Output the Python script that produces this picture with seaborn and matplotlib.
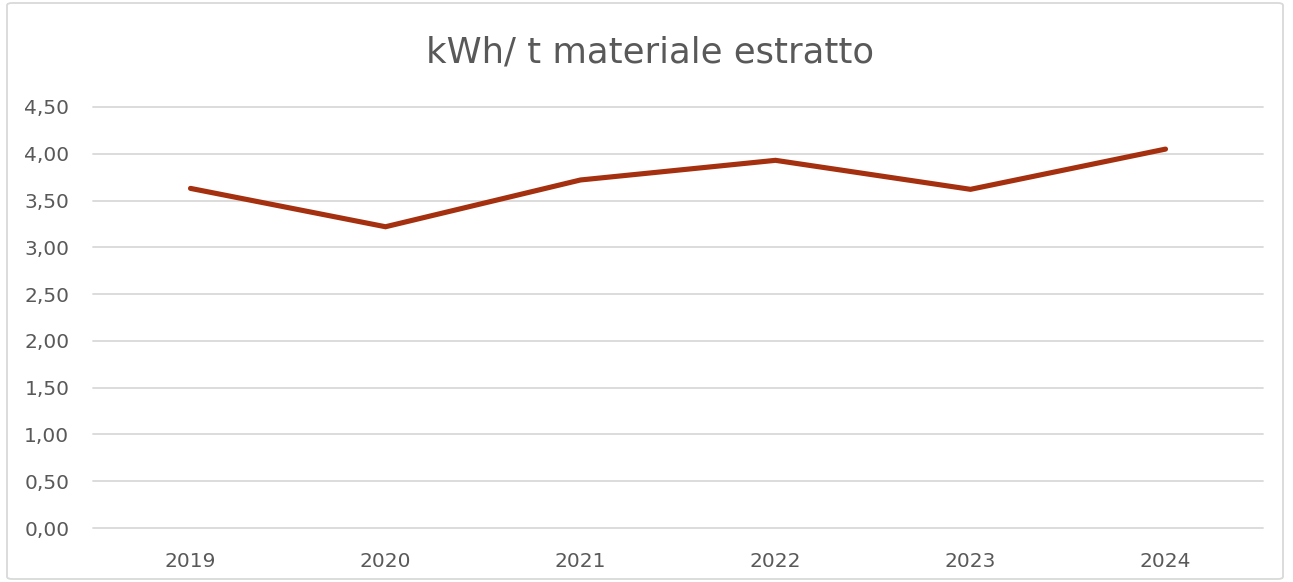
import matplotlib
matplotlib.use("Agg")
import matplotlib.pyplot as plt
import seaborn as sns
import pandas as pd
from matplotlib.patches import FancyBboxPatch
from matplotlib.ticker import FuncFormatter, MultipleLocator

years = ["2019", "2020", "2021", "2022", "2023", "2024"]
values = [3.63, 3.22, 3.72, 3.93, 3.62, 4.05]
title = "kWh/ t materiale estratto"

sns.set_theme(style="white")
plt.rcParams['font.family'] = ['DejaVu Sans']

df = pd.DataFrame({"anno": years, "valore": values})

fig = plt.figure(figsize=(12.93, 5.82), dpi=100)
ax = fig.add_axes([93/1293, 54/582, 1170/1293, 421/582])

sns.lineplot(data=df, x="anno", y="valore", ax=ax, color="#A5300F",
             linewidth=3.7, solid_capstyle="round", solid_joinstyle="miter")

ax.set_xlim(-0.5, 5.5)
ax.set_ylim(0, 4.5)
ax.yaxis.set_major_locator(MultipleLocator(0.5))
ax.yaxis.set_major_formatter(FuncFormatter(lambda v, p: f"{v:.2f}".replace(".", ",")))
ax.grid(axis="y", color="#D9D9D9", linewidth=1.3)
for gl in ax.get_ygridlines():
    gl.set_clip_on(False)
ax.set_axisbelow(True)
for s in ax.spines.values():
    s.set_visible(False)
ax.tick_params(axis="both", length=0, labelsize=14.5, labelcolor="#595959")
ax.tick_params(axis="y", pad=17)
ax.tick_params(axis="x", pad=17)
ax.set_xlabel("")
ax.set_ylabel("")

fig.text(650/1293, 1 - 52/582, title, ha="center", va="center",
         fontsize=25.5, color="#595959")

border = FancyBboxPatch((7/1293, 3/582), 1276/1293, 576/582,
                        boxstyle="round,pad=0,rounding_size=0.004",
                        transform=fig.transFigure, fill=False,
                        edgecolor="#D9D9D9", linewidth=1.3)
fig.patches.append(border)

fig.savefig("out.png", dpi=100)
